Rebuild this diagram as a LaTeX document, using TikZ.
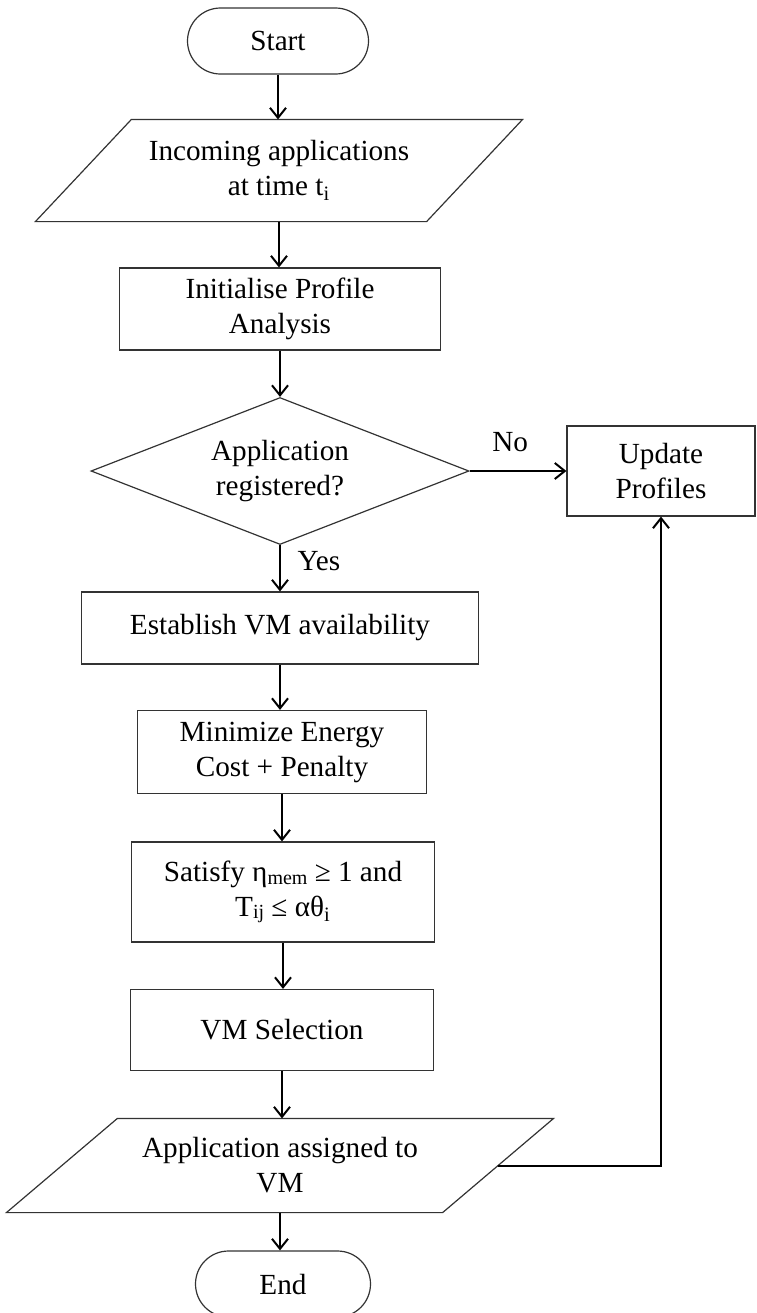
\documentclass[tikz,border=0pt]{standalone}
\usepackage{fontspec}
\setmainfont{Liberation Serif}
\usetikzlibrary{arrows.meta,shapes.geometric,shapes.misc,calc}

\begin{document}
\begin{tikzpicture}[x=0.5pt, y=-0.5pt, >={Straight Barb[length=5pt,width=8pt]},
    font=\fontsize{14.6}{17.5}\selectfont,
    base/.style={draw=black!80, line width=0.6pt, align=center, inner sep=0pt},
    term/.style={base, rounded rectangle, minimum height=33pt},
    proc/.style={base, rectangle},
    io/.style={base, draw=none, rectangle},
    decision/.style={base, diamond, aspect=2.57},
    flow/.style={->, line width=1pt}]
  \useasboundingbox (0,0) rectangle (756,1313);

  % main column
  \node[term, minimum width=90.5pt] (start) at (278,41) {Start};
  \node[io, minimum width=243pt, minimum height=50.5pt] (inc) at (279,170.5)
      {Incoming applications\\at time t\textsubscript{i}};
  \node[proc, minimum width=160.5pt, minimum height=41pt] (init) at (280,309)
      {Initialise Profile\\Analysis};
  \node[decision, minimum width=189pt, minimum height=73.5pt] (reg) at (280,471)
      {Application\\registered?};
  \node[proc, minimum width=94pt, minimum height=45pt] (upd) at (661,471)
      {Update\\Profiles};
  \node[proc, minimum width=198.5pt, minimum height=36pt] (est) at (280,628)
      {Establish VM availability};
  \node[proc, minimum width=144.5pt, minimum height=41.5pt] (mini) at (282,752)
      {Minimize Energy\\Cost + Penalty};
  \node[proc, minimum width=151.5pt, minimum height=50pt] (sat) at (283,892)
      {Satisfy η{\fontsize{10}{12}\selectfont\raisebox{-0.25ex}{mem}} ≥ 1 and\\
       T{\fontsize{10}{12}\selectfont\raisebox{-0.15ex}{ij}} ≤ αθ\textsubscript{i}};
  \node[proc, minimum width=151.5pt, minimum height=40.5pt] (sel) at (282,1030)
      {VM Selection};
  \node[io, minimum width=273pt, minimum height=46.5pt] (assign) at (280,1165.5)
      {Application assigned to\\VM};
  \node[term, minimum width=87.5pt] (stop) at (283,1284) {End};

  % slanted input/output boxes
  \draw[draw=black!80, line width=0.6pt] ($(inc.north west)+(96,0)$) -- (inc.north east)
      -- ($(inc.south east)+(-96,0)$) -- (inc.south west) -- cycle;
  \draw[draw=black!80, line width=0.6pt] ($(assign.north west)+(111,0)$) -- (assign.north east)
      -- ($(assign.south east)+(-111,0)$) -- (assign.south west) -- cycle;
  \coordinate (assign-r) at ($(assign.east)+(-55.5,0)$);

  % connectors
  \draw[flow] (start.south) -- (start.south |- inc.north);
  \draw[flow] (inc.south) -- (inc.south |- init.north);
  \draw[flow] (init.south) -- (init.south |- reg.north);
  \draw[flow] (reg.east) -- node[above=6pt, pos=0.42] {No} (upd.west);
  \draw[flow] (reg.south) -- node[right=5pt, pos=0.35] {Yes} (reg.south |- est.north);
  \draw[flow] (est.south) -- (est.south |- mini.north);
  \draw[flow] (mini.south) -- (mini.south |- sat.north);
  \draw[flow] (sat.south) -- (sat.south |- sel.north);
  \draw[flow] (sel.south) -- (sel.south |- assign.north);
  \draw[flow] (assign.south) -- (assign.south |- stop.north);
  \draw[flow] (assign-r) -| (upd.south);
\end{tikzpicture}
\end{document}
